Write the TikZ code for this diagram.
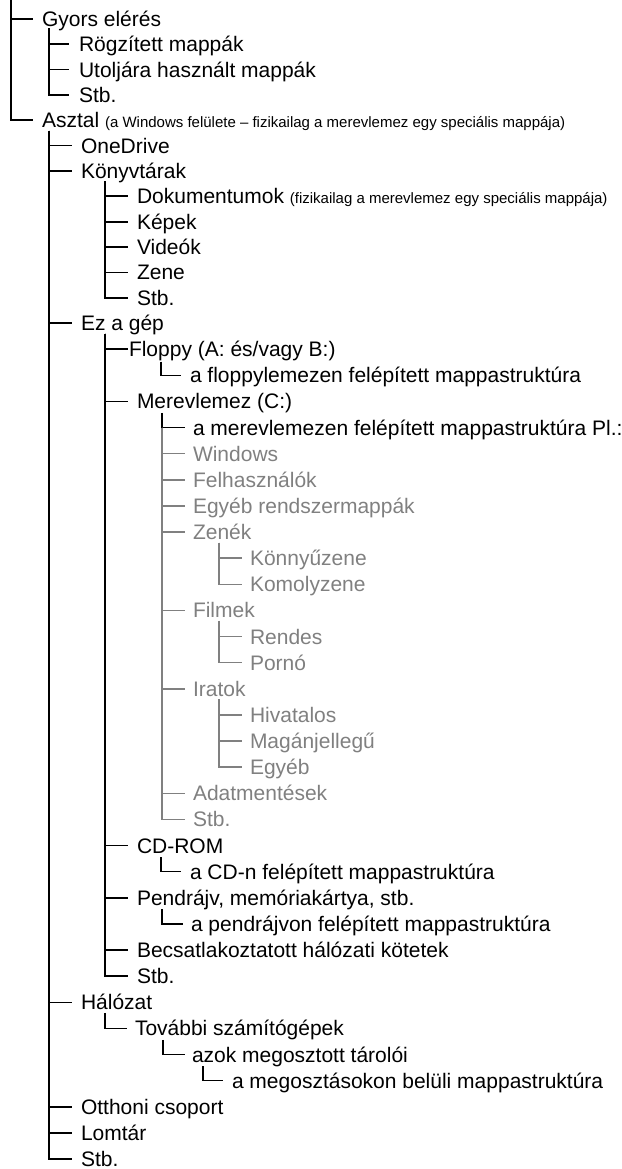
\documentclass[tikz,border=0pt]{standalone}
\usepackage{fontspec}
\setmainfont{Liberation Sans}
\definecolor{treegray}{RGB}{128,128,128}
\newcommand\smalltxt{\fontsize{15pt}{18pt}\selectfont}
\newcommand\tbranch[3][]{\draw[tree,#1] (#2) |- ([xshift=-9pt]#3.west);}
\tikzset{
  lbl/.style={anchor=west, inner sep=0pt, outer sep=0pt, text height=15pt, text depth=0pt,
              font=\fontsize{21pt}{25pt}\selectfont},
  glbl/.style={lbl, text=treegray},
  tree/.style={line width=1.6pt, draw=black},
  gl/.style={draw=treegray}
}
\begin{document}
\begin{tikzpicture}[x=1pt,y=-1pt]
\useasboundingbox (0,0) rectangle (621,1169);
% nodes
\node[lbl] (gyors) at (42,19) {Gyors elérés};
\node[lbl] (rogz) at (79,44.3) {Rögzített mappák};
\node[lbl] (utol) at (79,69.7) {Utoljára használt mappák};
\node[lbl] (gstb) at (79,95) {Stb.};
\node[lbl] (asztal) at (42,120.3) {Asztal {\smalltxt(a Windows felülete – fizikailag a merevlemez egy speciális mappája)}};
\node[lbl] (onedrive) at (81,145.7) {OneDrive};
\node[lbl] (konyv) at (81,171) {Könyvtárak};
\node[lbl] (dok) at (137,196.3) {Dokumentumok {\smalltxt(fizikailag a merevlemez egy speciális mappája)}};
\node[lbl] (kepek) at (137,221.7) {Képek};
\node[lbl] (video) at (137,247) {Videók};
\node[lbl] (zene) at (137,272.3) {Zene};
\node[lbl] (kstb) at (137,297.7) {Stb.};
\node[lbl] (gep) at (81,323) {Ez a gép};
\node[lbl] (floppy) at (129,349.1) {Floppy (A: és/vagy B:)};
\node[lbl] (flstr) at (190,375.3) {a floppylemezen felépített mappastruktúra};
\node[lbl] (merev) at (137,401.4) {Merevlemez (C:)};
\node[lbl] (mvstr) at (193,427.5) {a merevlemezen felépített mappastruktúra Pl.:};
\node[glbl] (win) at (193,453.6) {Windows};
\node[glbl] (felh) at (193,479.8) {Felhasználók};
\node[glbl] (egyeb) at (193,505.9) {Egyéb rendszermappák};
\node[glbl] (zenek) at (193,532) {Zenék};
\node[glbl] (konny) at (250,558.1) {Könnyűzene};
\node[glbl] (komoly) at (250,584.3) {Komolyzene};
\node[glbl] (filmek) at (193,610.4) {Filmek};
\node[glbl] (rendes) at (250,636.5) {Rendes};
\node[glbl] (porno) at (250,662.6) {Pornó};
\node[glbl] (iratok) at (193,688.8) {Iratok};
\node[glbl] (hiv) at (250,714.9) {Hivatalos};
\node[glbl] (magan) at (250,741) {Magánjellegű};
\node[glbl] (iegyeb) at (250,767.1) {Egyéb};
\node[glbl] (adat) at (193,793.3) {Adatmentések};
\node[glbl] (mstb) at (193,819.4) {Stb.};
\node[lbl] (cd) at (137,845.5) {CD-ROM};
\node[lbl] (cdstr) at (190,871.6) {a CD-n felépített mappastruktúra};
\node[lbl] (pen) at (137,897.8) {Pendrájv, memóriakártya, stb.};
\node[lbl] (penstr) at (191,923.9) {a pendrájvon felépített mappastruktúra};
\node[lbl] (becs) at (137,950) {Becsatlakoztatott hálózati kötetek};
\node[lbl] (gepstb) at (137,976.1) {Stb.};
\node[lbl] (halo) at (81,1002.3) {Hálózat};
\node[lbl] (tovabbi) at (135,1028.4) {További számítógépek};
\node[lbl] (azok) at (192,1054.5) {azok megosztott tárolói};
\node[lbl] (megoszt) at (232,1080.6) {a megosztásokon belüli mappastruktúra};
\node[lbl] (otthon) at (81,1106.8) {Otthoni csoport};
\node[lbl] (lomtar) at (81,1132.9) {Lomtár};
\node[lbl] (astb) at (81,1159) {Stb.};
% vertical start points
\coordinate (v0) at (11,0);
\coordinate (vG) at ([xshift=7pt,yshift=-2pt]gyors.south west);
\coordinate (vA) at ([xshift=7pt,yshift=-3pt]asztal.south west);
\coordinate (vK) at ([xshift=24pt,yshift=-3pt]konyv.south west);
\coordinate (vE) at ([xshift=24pt,yshift=-3pt]gep.south west);
\coordinate (vF) at ([xshift=32pt,yshift=-5pt]floppy.south west);
\coordinate (vM) at ([xshift=25pt,yshift=-4pt]merev.south west);
\coordinate (vZ) at ([xshift=26pt,yshift=-3pt]zenek.south west);
\coordinate (vFi) at ([xshift=26pt,yshift=-3pt]filmek.south west);
\coordinate (vI) at ([xshift=26pt,yshift=-3pt]iratok.south west);
\coordinate (vC) at ([xshift=24pt,yshift=-4pt]cd.south west);
\coordinate (vP) at ([xshift=25pt,yshift=-4pt]pen.south west);
\coordinate (vH) at ([xshift=24pt,yshift=-3pt]halo.south west);
\coordinate (vT) at ([xshift=28pt,yshift=-4pt]tovabbi.south west);
\coordinate (vAz) at ([xshift=11pt,yshift=-4pt]azok.south west);
% connectors
\tbranch{v0}{gyors}
\tbranch{v0}{asztal}
\draw[tree] (vG) |- ([xshift=-10pt]rogz.west);
\draw[tree] (vG) |- ([xshift=-10pt]utol.west);
\draw[tree] (vG) |- ([xshift=-10pt]gstb.west);
\tbranch{vA}{onedrive}
\tbranch{vA}{konyv}
\tbranch{vA}{gep}
\tbranch{vA}{halo}
\tbranch{vA}{otthon}
\tbranch{vA}{lomtar}
\tbranch{vA}{astb}
\tbranch{vK}{dok}
\tbranch{vK}{kepek}
\tbranch{vK}{video}
\tbranch{vK}{zene}
\tbranch{vK}{kstb}
\draw[tree] (vE) |- ([xshift=-1pt]floppy.west);
\tbranch{vE}{merev}
\tbranch{vE}{cd}
\tbranch{vE}{pen}
\tbranch{vE}{becs}
\tbranch{vE}{gepstb}
\tbranch{vF}{flstr}
\draw[tree] (vM) |- ([xshift=-8pt]mvstr.west);
\draw[tree,gl] (vM |- mvstr.west) |- ([xshift=-8pt]win.west);
\draw[tree,gl] (vM |- mvstr.west) |- ([xshift=-8pt]felh.west);
\draw[tree,gl] (vM |- mvstr.west) |- ([xshift=-8pt]egyeb.west);
\draw[tree,gl] (vM |- mvstr.west) |- ([xshift=-8pt]zenek.west);
\draw[tree,gl] (vM |- mvstr.west) |- ([xshift=-8pt]filmek.west);
\draw[tree,gl] (vM |- mvstr.west) |- ([xshift=-8pt]iratok.west);
\draw[tree,gl] (vM |- mvstr.west) |- ([xshift=-8pt]adat.west);
\draw[tree,gl] (vM |- mvstr.west) |- ([xshift=-8pt]mstb.west);
\draw[tree,gl] (vZ) |- ([xshift=-8pt]konny.west);
\draw[tree,gl] (vZ) |- ([xshift=-8pt]komoly.west);
\draw[tree,gl] (vFi) |- ([xshift=-8pt]rendes.west);
\draw[tree,gl] (vFi) |- ([xshift=-8pt]porno.west);
\draw[tree,gl] (vI) |- ([xshift=-8pt]hiv.west);
\draw[tree,gl] (vI) |- ([xshift=-8pt]magan.west);
\draw[tree,gl] (vI) |- ([xshift=-8pt]iegyeb.west);
\tbranch{vC}{cdstr}
\draw[tree] (vP) |- ([xshift=-8pt]penstr.west);
\draw[tree] (vH) |- ([xshift=-8pt]tovabbi.west);
\draw[tree] (vT) |- ([xshift=-7pt]azok.west);
\draw[tree] (vAz) |- ([xshift=-9pt]megoszt.west);
\end{tikzpicture}
\end{document}
